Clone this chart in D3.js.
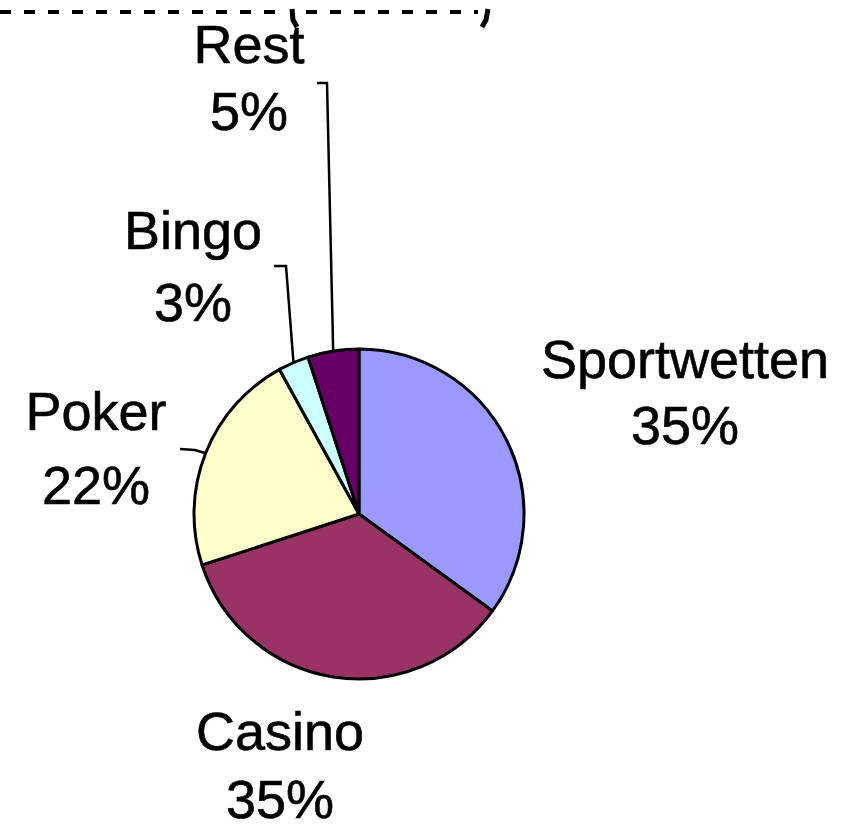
<!DOCTYPE html>
<html>
<head>
<meta charset="utf-8">
<script src="https://cdn.jsdelivr.net/npm/d3@7"></script>
<style>
  body { margin: 0; background: #fff; }
  svg { display: block; }
  .lbl { font-family: "Liberation Sans", Arial, sans-serif; font-size: 54px; fill: #000; stroke: #000; stroke-width: 0.6px; }
</style>
</head>
<body>
<div class="chart-wrapper"></div>
<script>
// data
var categories = ["Sportwetten", "Casino", "Poker", "Bingo", "Rest"];
var shares = [35, 35, 22, 3, 5];
var colours = ["#9999ff", "#993366", "#ffffcc", "#ccffff", "#660066"];

// where each label sits (x centre, baseline of name, baseline of percent)
var labelPos = {
  "Sportwetten": [685, 378, 444],
  "Casino":      [280, 750, 818],
  "Poker":       [96, 430, 504],
  "Bingo":       [193, 249, 321],
  "Rest":        [249, 63, 130]
};
// elbows of the leader lines (only the small slices have them)
var leaderStart = {
  "Rest":  [[317, 83], [327, 83]],
  "Bingo": [[274, 266], [286, 266]],
  "Poker": [[180, 449], [195, 450]]
};

var width = 853, height = 834;
var cx = 359, cy = 514, radius = 165;

var svg = d3.select(".chart-wrapper").append("svg")
  .attr("width", width).attr("height", height);

// cut-off title remains at the very top
svg.append("line")
  .attr("x1", 0).attr("x2", 282).attr("y1", 12).attr("y2", 12)
  .attr("stroke", "#000").attr("stroke-width", 4).attr("stroke-dasharray", "11,13");
svg.append("line")
  .attr("x1", 306).attr("x2", 478).attr("y1", 12).attr("y2", 12)
  .attr("stroke", "#000").attr("stroke-width", 4).attr("stroke-dasharray", "11,13");
svg.append("path").attr("d", "M292,9 L293,20 L297,27").attr("fill", "none")
  .attr("stroke", "#000").attr("stroke-width", 5);
svg.append("path").attr("d", "M488,9 L486,20 L482,27").attr("fill", "none")
  .attr("stroke", "#000").attr("stroke-width", 5);

var pieData = categories.map(function(c, i) {
  return { name: c, value: shares[i], colour: colours[i] };
});

var pie = d3.pie().sort(null).value(function(d) { return d.value; });
var arc = d3.arc().innerRadius(0).outerRadius(radius);
var arcs = pie(pieData);

var g = svg.append("g").attr("transform", "translate(" + cx + "," + cy + ")");

g.selectAll("path.slice")
  .data(arcs)
  .enter().append("path")
  .attr("class", "slice")
  .attr("d", arc)
  .attr("fill", function(d) { return d.data.colour; })
  .attr("stroke", "#000")
  .attr("stroke-width", 3)
  .attr("stroke-linejoin", "round");

// leader lines to the middle of the slice edge
arcs.forEach(function(d) {
  var pts = leaderStart[d.data.name];
  if (!pts) return;
  var mid = (d.startAngle + d.endAngle) / 2;
  var end = [cx + radius * Math.sin(mid), cy - radius * Math.cos(mid)];
  svg.append("path")
    .attr("d", d3.line()(pts.concat([end])))
    .attr("fill", "none")
    .attr("stroke", "#000")
    .attr("stroke-width", 2.5);
});

// labels
arcs.forEach(function(d) {
  var p = labelPos[d.data.name];
  svg.append("text").attr("class", "lbl")
    .attr("x", p[0]).attr("y", p[1]).attr("text-anchor", "middle")
    .text(d.data.name);
  svg.append("text").attr("class", "lbl")
    .attr("x", p[0]).attr("y", p[2]).attr("text-anchor", "middle")
    .text(d.data.value + "%");
});
</script>
</body>
</html>
